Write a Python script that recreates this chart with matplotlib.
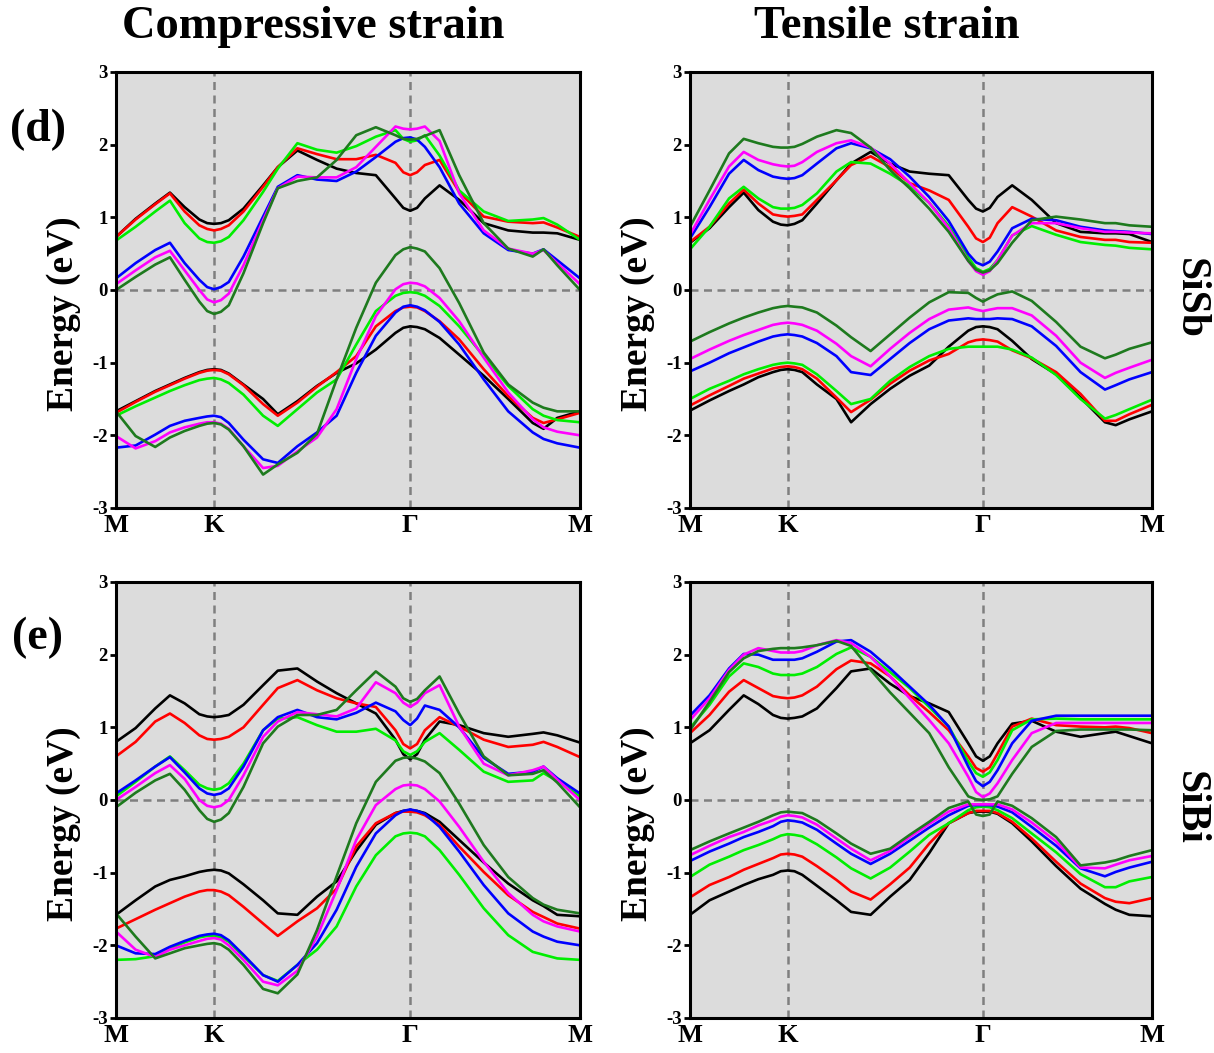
import matplotlib
matplotlib.use("Agg")
import matplotlib.pyplot as plt

plt.rcParams['font.family'] = ['Liberation Serif', 'DejaVu Serif']
plt.rcParams['font.weight'] = 'bold'

# ---------------- k-path (M-K-Gamma-M, units of |MK|) ----------------
K_PATH = [0, 0.2, 0.4, 0.55, 0.7, 0.85, 0.93, 1.0, 1.07, 1.15, 1.3, 1.5, 1.65, 1.85, 2.05, 2.25,
          2.45, 2.65, 2.85, 2.93, 3.0, 3.07, 3.15, 3.3, 3.5, 3.75, 4.0, 4.25, 4.36, 4.5, 4.732]
K_TICK_POS = [0, 1.0, 3.0, 4.732]
K_TICK_LABELS = ['M', 'K', 'Γ', 'M']
Y_TICKS = [-3, -2, -1, 0, 1, 2, 3]

COLUMN_TITLES = ['Compressive strain', 'Tensile strain']
ROW_TAGS = ['(d)', '(e)']
ROW_MATERIALS = ['SiSb', 'SiBi']
Y_LABEL = 'Energy (eV)'

SERIES = ['black', 'red', 'lime', 'blue', 'magenta', 'dgreen']

# ---------------- SiSb, compressive strain ----------------
SISB_C_BLACK_CB = [0.73, 0.98, 1.19, 1.34, 1.14, 0.97, 0.92, 0.91, 0.92, 0.96, 1.12, 1.44, 1.69, 1.92, 1.79, 1.67, 1.61, 1.58, 1.26, 1.13, 1.09, 1.13, 1.26, 1.44, 1.24, 0.92, 0.82, 0.79, 0.79, 0.78, 0.69]
SISB_C_RED_CB = [0.73, 0.97, 1.18, 1.33, 1.08, 0.89, 0.84, 0.82, 0.84, 0.89, 1.08, 1.42, 1.69, 1.95, 1.87, 1.80, 1.80, 1.86, 1.75, 1.62, 1.58, 1.62, 1.72, 1.79, 1.35, 1.01, 0.94, 0.92, 0.93, 0.86, 0.73]
SISB_C_LIME_CB = [0.68, 0.87, 1.08, 1.23, 0.92, 0.71, 0.66, 0.65, 0.67, 0.73, 0.96, 1.35, 1.67, 2.02, 1.93, 1.89, 1.98, 2.11, 2.20, 2.08, 2.04, 2.06, 2.13, 1.85, 1.37, 1.08, 0.95, 0.97, 0.99, 0.90, 0.69]
SISB_C_BLUE_CB = [0.16, 0.37, 0.55, 0.65, 0.37, 0.14, 0.04, 0.01, 0.04, 0.11, 0.46, 1.01, 1.42, 1.58, 1.52, 1.50, 1.63, 1.83, 2.04, 2.09, 2.10, 2.07, 1.97, 1.69, 1.19, 0.78, 0.55, 0.50, 0.56, 0.41, 0.16]
SISB_C_MAGENTA_CB = [0.08, 0.27, 0.45, 0.54, 0.27, 0.00, -0.13, -0.17, -0.14, -0.05, 0.34, 0.96, 1.40, 1.56, 1.55, 1.55, 1.69, 1.97, 2.25, 2.22, 2.21, 2.22, 2.25, 2.05, 1.33, 0.82, 0.57, 0.50, 0.55, 0.37, 0.08]
SISB_C_DGREEN_CB = [0.00, 0.18, 0.35, 0.45, 0.14, -0.16, -0.29, -0.33, -0.30, -0.21, 0.23, 0.92, 1.40, 1.50, 1.55, 1.79, 2.13, 2.24, 2.13, 2.08, 2.07, 2.08, 2.12, 2.20, 1.58, 0.92, 0.57, 0.46, 0.56, 0.34, 0.00]
SISB_C_BLACK_VB = [-1.67, -1.53, -1.39, -1.30, -1.21, -1.13, -1.10, -1.09, -1.10, -1.15, -1.30, -1.50, -1.71, -1.53, -1.32, -1.14, -1.01, -0.82, -0.59, -0.52, -0.50, -0.51, -0.54, -0.66, -0.89, -1.18, -1.50, -1.83, -1.91, -1.76, -1.67]
SISB_C_RED_VB = [-1.69, -1.54, -1.40, -1.31, -1.22, -1.14, -1.11, -1.10, -1.11, -1.16, -1.31, -1.57, -1.73, -1.55, -1.33, -1.13, -0.91, -0.50, -0.29, -0.24, -0.23, -0.24, -0.29, -0.43, -0.68, -1.09, -1.46, -1.76, -1.83, -1.78, -1.69]
SISB_C_LIME_VB = [-1.73, -1.60, -1.48, -1.39, -1.31, -1.24, -1.22, -1.21, -1.23, -1.28, -1.44, -1.73, -1.87, -1.64, -1.41, -1.23, -0.75, -0.29, -0.08, -0.04, -0.03, -0.04, -0.08, -0.22, -0.50, -0.91, -1.32, -1.64, -1.73, -1.79, -1.82]
SISB_C_BLUE_VB = [-2.17, -2.14, -1.99, -1.87, -1.80, -1.76, -1.74, -1.73, -1.75, -1.83, -2.06, -2.33, -2.38, -2.15, -1.96, -1.73, -1.14, -0.63, -0.31, -0.23, -0.21, -0.23, -0.28, -0.44, -0.75, -1.23, -1.67, -1.96, -2.05, -2.11, -2.17]
SISB_C_MAGENTA_VB = [-2.01, -2.18, -2.08, -1.96, -1.89, -1.84, -1.82, -1.82, -1.84, -1.91, -2.15, -2.45, -2.42, -2.22, -2.03, -1.64, -0.95, -0.36, 0.01, 0.08, 0.10, 0.09, 0.05, -0.11, -0.43, -0.93, -1.41, -1.78, -1.89, -1.95, -2.00]
SISB_C_DGREEN_VB = [-1.67, -2.01, -2.16, -2.03, -1.94, -1.87, -1.84, -1.83, -1.85, -1.92, -2.15, -2.54, -2.40, -2.24, -1.98, -1.23, -0.52, 0.10, 0.48, 0.56, 0.59, 0.57, 0.53, 0.30, -0.18, -0.86, -1.30, -1.55, -1.62, -1.67, -1.67]

# ---------------- SiSb, tensile strain ----------------
SISB_T_BLACK_CB = [0.65, 0.85, 1.14, 1.34, 1.10, 0.94, 0.90, 0.89, 0.91, 0.96, 1.19, 1.51, 1.74, 1.90, 1.74, 1.63, 1.60, 1.58, 1.24, 1.12, 1.08, 1.13, 1.28, 1.44, 1.24, 0.92, 0.80, 0.78, 0.78, 0.77, 0.66]
SISB_T_RED_CB = [0.66, 0.87, 1.19, 1.38, 1.19, 1.04, 1.02, 1.01, 1.02, 1.04, 1.24, 1.51, 1.72, 1.84, 1.69, 1.47, 1.37, 1.24, 0.87, 0.71, 0.66, 0.72, 0.92, 1.14, 1.01, 0.82, 0.73, 0.69, 0.69, 0.66, 0.65]
SISB_T_LIME_CB = [0.56, 0.87, 1.26, 1.42, 1.26, 1.14, 1.12, 1.12, 1.13, 1.17, 1.33, 1.63, 1.76, 1.74, 1.60, 1.43, 1.20, 0.88, 0.45, 0.30, 0.25, 0.29, 0.41, 0.75, 0.88, 0.76, 0.66, 0.62, 0.61, 0.58, 0.56]
SISB_T_BLUE_CB = [0.71, 1.14, 1.60, 1.79, 1.65, 1.56, 1.54, 1.53, 1.54, 1.58, 1.74, 1.95, 2.02, 1.95, 1.80, 1.56, 1.28, 0.95, 0.50, 0.38, 0.34, 0.39, 0.53, 0.85, 0.98, 0.96, 0.87, 0.82, 0.81, 0.80, 0.77]
SISB_T_MAGENTA_CB = [0.76, 1.24, 1.70, 1.90, 1.79, 1.73, 1.71, 1.70, 1.71, 1.76, 1.90, 2.02, 2.06, 1.96, 1.74, 1.47, 1.20, 0.85, 0.40, 0.26, 0.21, 0.26, 0.41, 0.75, 0.92, 0.92, 0.85, 0.80, 0.80, 0.79, 0.78]
SISB_T_DGREEN_CB = [0.87, 1.37, 1.88, 2.08, 2.02, 1.97, 1.96, 1.96, 1.97, 2.01, 2.11, 2.20, 2.16, 1.96, 1.65, 1.40, 1.12, 0.80, 0.40, 0.28, 0.24, 0.27, 0.37, 0.65, 0.96, 1.01, 0.97, 0.92, 0.92, 0.89, 0.87]
SISB_T_BLACK_VB = [-1.66, -1.52, -1.39, -1.30, -1.20, -1.13, -1.10, -1.09, -1.10, -1.13, -1.30, -1.50, -1.82, -1.57, -1.36, -1.18, -1.04, -0.78, -0.56, -0.51, -0.50, -0.51, -0.54, -0.70, -0.95, -1.16, -1.48, -1.82, -1.86, -1.78, -1.67]
SISB_T_RED_VB = [-1.59, -1.45, -1.32, -1.22, -1.15, -1.08, -1.06, -1.05, -1.06, -1.09, -1.22, -1.48, -1.68, -1.51, -1.29, -1.11, -0.97, -0.88, -0.72, -0.69, -0.68, -0.69, -0.71, -0.83, -0.94, -1.13, -1.43, -1.80, -1.80, -1.71, -1.58]
SISB_T_LIME_VB = [-1.50, -1.36, -1.25, -1.16, -1.09, -1.03, -1.01, -1.00, -1.01, -1.03, -1.16, -1.39, -1.57, -1.50, -1.25, -1.06, -0.91, -0.81, -0.78, -0.78, -0.78, -0.78, -0.78, -0.82, -0.93, -1.17, -1.50, -1.77, -1.72, -1.64, -1.51]
SISB_T_BLUE_VB = [-1.12, -1.00, -0.87, -0.79, -0.71, -0.64, -0.62, -0.61, -0.62, -0.64, -0.73, -0.91, -1.13, -1.17, -0.95, -0.73, -0.54, -0.42, -0.39, -0.40, -0.40, -0.40, -0.39, -0.40, -0.50, -0.77, -1.13, -1.37, -1.31, -1.23, -1.13]
SISB_T_MAGENTA_VB = [-0.95, -0.82, -0.70, -0.62, -0.55, -0.48, -0.46, -0.45, -0.46, -0.48, -0.56, -0.74, -0.91, -1.05, -0.81, -0.59, -0.40, -0.27, -0.24, -0.27, -0.29, -0.27, -0.25, -0.25, -0.35, -0.63, -1.00, -1.21, -1.14, -1.07, -0.96]
SISB_T_DGREEN_VB = [-0.71, -0.58, -0.46, -0.38, -0.31, -0.25, -0.23, -0.22, -0.23, -0.24, -0.31, -0.49, -0.65, -0.84, -0.61, -0.38, -0.17, -0.03, -0.04, -0.11, -0.16, -0.11, -0.06, -0.02, -0.15, -0.44, -0.78, -0.94, -0.89, -0.81, -0.72]

# ---------------- SiBi, compressive strain ----------------
SIBI_C_BLACK_CB = [0.80, 0.99, 1.26, 1.44, 1.33, 1.18, 1.15, 1.14, 1.15, 1.17, 1.31, 1.58, 1.78, 1.81, 1.63, 1.47, 1.33, 1.19, 0.83, 0.63, 0.56, 0.63, 0.83, 1.08, 1.03, 0.92, 0.87, 0.91, 0.93, 0.89, 0.79]
SIBI_C_RED_CB = [0.60, 0.80, 1.08, 1.19, 1.06, 0.89, 0.84, 0.83, 0.84, 0.87, 1.00, 1.31, 1.54, 1.65, 1.51, 1.40, 1.33, 1.28, 0.96, 0.77, 0.71, 0.77, 0.96, 1.14, 1.01, 0.83, 0.73, 0.76, 0.80, 0.73, 0.59]
SIBI_C_LIME_CB = [0.05, 0.25, 0.46, 0.60, 0.41, 0.21, 0.16, 0.14, 0.16, 0.23, 0.50, 0.96, 1.12, 1.14, 1.03, 0.94, 0.94, 0.98, 0.82, 0.67, 0.62, 0.67, 0.80, 0.92, 0.69, 0.39, 0.25, 0.27, 0.37, 0.26, 0.05]
SIBI_C_BLUE_CB = [0.09, 0.27, 0.46, 0.59, 0.38, 0.16, 0.09, 0.07, 0.09, 0.16, 0.46, 0.96, 1.14, 1.24, 1.14, 1.11, 1.20, 1.34, 1.22, 1.10, 1.03, 1.12, 1.30, 1.24, 1.00, 0.58, 0.36, 0.39, 0.46, 0.30, 0.09]
SIBI_C_MAGENTA_CB = [0.00, 0.18, 0.37, 0.48, 0.29, 0.00, -0.08, -0.10, -0.08, 0.00, 0.34, 0.87, 1.08, 1.21, 1.18, 1.15, 1.26, 1.62, 1.47, 1.34, 1.28, 1.34, 1.47, 1.58, 1.01, 0.50, 0.34, 0.41, 0.46, 0.28, 0.00]
SIBI_C_DGREEN_CB = [-0.10, 0.10, 0.27, 0.36, 0.14, -0.14, -0.26, -0.30, -0.27, -0.18, 0.18, 0.78, 1.01, 1.17, 1.17, 1.24, 1.51, 1.77, 1.56, 1.40, 1.35, 1.39, 1.51, 1.70, 1.19, 0.60, 0.34, 0.36, 0.41, 0.24, -0.10]
SIBI_C_BLACK_VB = [-1.58, -1.38, -1.19, -1.10, -1.05, -0.99, -0.97, -0.96, -0.97, -1.01, -1.16, -1.38, -1.56, -1.58, -1.33, -1.12, -0.70, -0.34, -0.18, -0.15, -0.14, -0.15, -0.18, -0.30, -0.55, -0.86, -1.15, -1.38, -1.46, -1.58, -1.60]
SIBI_C_RED_VB = [-1.77, -1.64, -1.51, -1.42, -1.33, -1.26, -1.24, -1.24, -1.26, -1.31, -1.47, -1.70, -1.87, -1.67, -1.49, -1.22, -0.64, -0.32, -0.18, -0.16, -0.16, -0.17, -0.21, -0.34, -0.64, -0.99, -1.31, -1.54, -1.61, -1.70, -1.77]
SIBI_C_LIME_VB = [-2.20, -2.19, -2.15, -2.04, -1.96, -1.89, -1.87, -1.87, -1.89, -1.95, -2.15, -2.41, -2.49, -2.27, -2.06, -1.74, -1.19, -0.76, -0.50, -0.46, -0.45, -0.46, -0.50, -0.69, -1.03, -1.49, -1.86, -2.09, -2.13, -2.18, -2.20]
SIBI_C_BLUE_VB = [-2.00, -2.11, -2.12, -2.02, -1.94, -1.87, -1.85, -1.84, -1.86, -1.93, -2.13, -2.41, -2.50, -2.27, -1.97, -1.51, -0.92, -0.46, -0.21, -0.15, -0.13, -0.15, -0.19, -0.37, -0.71, -1.17, -1.56, -1.81, -1.88, -1.95, -2.00]
SIBI_C_MAGENTA_VB = [-1.81, -2.06, -2.16, -2.06, -2.00, -1.94, -1.91, -1.90, -1.92, -2.00, -2.20, -2.50, -2.55, -2.35, -1.88, -1.24, -0.55, -0.07, 0.15, 0.20, 0.21, 0.20, 0.15, -0.02, -0.37, -0.85, -1.28, -1.58, -1.67, -1.74, -1.81]
SIBI_C_DGREEN_VB = [-1.56, -1.88, -2.18, -2.11, -2.04, -2.00, -1.98, -1.97, -1.99, -2.06, -2.27, -2.60, -2.66, -2.40, -1.79, -1.05, -0.32, 0.25, 0.54, 0.58, 0.59, 0.57, 0.53, 0.37, -0.05, -0.62, -1.06, -1.35, -1.44, -1.51, -1.56]

# ---------------- SiBi, tensile strain ----------------
SIBI_T_BLACK_CB = [0.78, 0.96, 1.24, 1.44, 1.32, 1.17, 1.13, 1.12, 1.13, 1.15, 1.26, 1.54, 1.77, 1.81, 1.60, 1.43, 1.33, 1.21, 0.78, 0.60, 0.54, 0.60, 0.78, 1.05, 1.09, 0.94, 0.87, 0.92, 0.94, 0.88, 0.78]
SIBI_T_RED_CB = [0.92, 1.17, 1.49, 1.65, 1.54, 1.43, 1.41, 1.40, 1.41, 1.44, 1.56, 1.80, 1.92, 1.88, 1.70, 1.44, 1.21, 0.96, 0.60, 0.44, 0.39, 0.45, 0.64, 1.01, 1.12, 1.03, 1.01, 1.00, 1.01, 0.99, 0.92]
SIBI_T_LIME_CB = [0.99, 1.31, 1.70, 1.88, 1.83, 1.74, 1.72, 1.72, 1.72, 1.74, 1.83, 2.01, 2.10, 1.97, 1.76, 1.54, 1.28, 1.01, 0.53, 0.37, 0.32, 0.38, 0.55, 0.96, 1.11, 1.12, 1.11, 1.11, 1.11, 1.11, 1.11]
SIBI_T_BLUE_CB = [1.16, 1.44, 1.81, 2.01, 2.00, 1.93, 1.93, 1.93, 1.93, 1.95, 2.04, 2.18, 2.20, 2.04, 1.81, 1.56, 1.31, 1.01, 0.46, 0.26, 0.19, 0.25, 0.41, 0.78, 1.09, 1.16, 1.16, 1.16, 1.16, 1.16, 1.16]
SIBI_T_MAGENTA_CB = [1.10, 1.40, 1.79, 2.00, 2.09, 2.05, 2.03, 2.03, 2.03, 2.05, 2.13, 2.20, 2.16, 1.97, 1.70, 1.40, 1.10, 0.78, 0.32, 0.11, 0.04, 0.09, 0.23, 0.55, 0.92, 1.06, 1.06, 1.06, 1.06, 1.06, 1.06]
SIBI_T_DGREEN_CB = [0.96, 1.35, 1.76, 1.95, 2.05, 2.08, 2.09, 2.09, 2.09, 2.10, 2.13, 2.19, 2.12, 1.79, 1.48, 1.20, 0.92, 0.45, 0.05, 0.01, 0.00, 0.01, 0.05, 0.36, 0.73, 0.95, 0.97, 0.97, 0.97, 0.97, 0.96]
SIBI_T_BLACK_VB = [-1.58, -1.38, -1.26, -1.17, -1.09, -1.03, -0.98, -0.97, -0.98, -1.03, -1.18, -1.38, -1.54, -1.58, -1.33, -1.10, -0.73, -0.32, -0.18, -0.16, -0.16, -0.16, -0.19, -0.32, -0.57, -0.91, -1.22, -1.43, -1.51, -1.58, -1.60]
SIBI_T_RED_VB = [-1.34, -1.17, -1.06, -0.96, -0.88, -0.80, -0.75, -0.74, -0.75, -0.78, -0.91, -1.10, -1.26, -1.37, -1.16, -0.93, -0.60, -0.32, -0.18, -0.15, -0.15, -0.15, -0.18, -0.30, -0.53, -0.85, -1.15, -1.35, -1.40, -1.42, -1.35]
SIBI_T_LIME_VB = [-1.06, -0.89, -0.78, -0.69, -0.62, -0.54, -0.49, -0.47, -0.48, -0.50, -0.61, -0.79, -0.94, -1.08, -0.93, -0.71, -0.48, -0.32, -0.14, -0.10, -0.09, -0.10, -0.14, -0.25, -0.46, -0.72, -1.02, -1.20, -1.20, -1.12, -1.06]
SIBI_T_BLUE_VB = [-0.84, -0.71, -0.60, -0.51, -0.44, -0.36, -0.30, -0.28, -0.29, -0.31, -0.41, -0.60, -0.74, -0.88, -0.74, -0.56, -0.38, -0.21, -0.08, -0.07, -0.07, -0.07, -0.09, -0.17, -0.37, -0.63, -0.94, -1.05, -0.99, -0.93, -0.85]
SIBI_T_MAGENTA_VB = [-0.76, -0.63, -0.51, -0.44, -0.35, -0.28, -0.23, -0.21, -0.22, -0.24, -0.34, -0.53, -0.67, -0.83, -0.70, -0.51, -0.33, -0.16, -0.06, -0.06, -0.06, -0.06, -0.06, -0.13, -0.31, -0.57, -0.93, -0.94, -0.89, -0.83, -0.77]
SIBI_T_DGREEN_VB = [-0.69, -0.57, -0.46, -0.38, -0.30, -0.21, -0.17, -0.16, -0.17, -0.18, -0.28, -0.46, -0.60, -0.74, -0.67, -0.48, -0.30, -0.11, -0.02, -0.20, -0.22, -0.20, -0.02, -0.08, -0.25, -0.51, -0.90, -0.86, -0.83, -0.77, -0.69]

COLORS = {'black': '#000000', 'red': '#ff0000', 'lime': '#00ee00',
          'blue': '#0000ff', 'magenta': '#ff00ff', 'dgreen': '#1e7a1e'}

PANELS = [
    [  # row 0: SiSb
        {'black': (SISB_C_BLACK_CB, SISB_C_BLACK_VB), 'red': (SISB_C_RED_CB, SISB_C_RED_VB),
         'lime': (SISB_C_LIME_CB, SISB_C_LIME_VB), 'blue': (SISB_C_BLUE_CB, SISB_C_BLUE_VB),
         'magenta': (SISB_C_MAGENTA_CB, SISB_C_MAGENTA_VB), 'dgreen': (SISB_C_DGREEN_CB, SISB_C_DGREEN_VB)},
        {'black': (SISB_T_BLACK_CB, SISB_T_BLACK_VB), 'red': (SISB_T_RED_CB, SISB_T_RED_VB),
         'lime': (SISB_T_LIME_CB, SISB_T_LIME_VB), 'blue': (SISB_T_BLUE_CB, SISB_T_BLUE_VB),
         'magenta': (SISB_T_MAGENTA_CB, SISB_T_MAGENTA_VB), 'dgreen': (SISB_T_DGREEN_CB, SISB_T_DGREEN_VB)},
    ],
    [  # row 1: SiBi
        {'black': (SIBI_C_BLACK_CB, SIBI_C_BLACK_VB), 'red': (SIBI_C_RED_CB, SIBI_C_RED_VB),
         'lime': (SIBI_C_LIME_CB, SIBI_C_LIME_VB), 'blue': (SIBI_C_BLUE_CB, SIBI_C_BLUE_VB),
         'magenta': (SIBI_C_MAGENTA_CB, SIBI_C_MAGENTA_VB), 'dgreen': (SIBI_C_DGREEN_CB, SIBI_C_DGREEN_VB)},
        {'black': (SIBI_T_BLACK_CB, SIBI_T_BLACK_VB), 'red': (SIBI_T_RED_CB, SIBI_T_RED_VB),
         'lime': (SIBI_T_LIME_CB, SIBI_T_LIME_VB), 'blue': (SIBI_T_BLUE_CB, SIBI_T_BLUE_VB),
         'magenta': (SIBI_T_MAGENTA_CB, SIBI_T_MAGENTA_VB), 'dgreen': (SIBI_T_DGREEN_CB, SIBI_T_DGREEN_VB)},
    ],
]

W, H = 1214, 1053
fig = plt.figure(figsize=(W / 100, H / 100), dpi=100)

# axes boxes in pixels: (left, top, right, bottom)
BOXES = [[(116, 72, 580, 508), (690, 72, 1152, 508)],
         [(116, 582, 580, 1018), (690, 582, 1152, 1018)]]

GRID_COLOR = '#7f7f7f'
DASH = (0, (3.2, 2.2))

for r in range(2):
    for c in range(2):
        l, t, rr, b = BOXES[r][c]
        ax = fig.add_axes([l / W, 1 - b / H, (rr - l) / W, (b - t) / H])
        ax.set_facecolor('#dcdcdc')
        ax.set_xlim(K_PATH[0], K_PATH[-1])
        ax.set_ylim(-3, 3)
        for xv in K_TICK_POS[1:-1]:
            ax.axvline(xv, color=GRID_COLOR, lw=1.8, linestyle=DASH, zorder=1)
        ax.axhline(0, color=GRID_COLOR, lw=1.8, linestyle=DASH, zorder=1)
        data = PANELS[r][c]
        for z, name in enumerate(SERIES):
            cb, vb = data[name]
            ax.plot(K_PATH, cb, color=COLORS[name], lw=1.9, zorder=3 + z,
                    solid_joinstyle='round', solid_capstyle='round')
            ax.plot(K_PATH, vb, color=COLORS[name], lw=1.9, zorder=3 + z,
                    solid_joinstyle='round', solid_capstyle='round')
        ax.set_xticks(K_TICK_POS)
        ax.set_xticklabels(K_TICK_LABELS, fontsize=19, fontweight='bold')
        ax.set_yticks(Y_TICKS)
        ax.set_yticklabels([str(v) for v in Y_TICKS], fontsize=13.5, fontweight='bold')
        ax.tick_params(axis='x', length=0, pad=4)
        ax.tick_params(axis='y', direction='out', length=4, width=2, pad=2)
        for s in ax.spines.values():
            s.set_linewidth(2.2)
            s.set_zorder(20)
        ax.set_ylabel(Y_LABEL, fontsize=27, fontweight='bold')
        ax.yaxis.set_label_coords(-0.075, 0.445)

# column titles
fig.text(313 / W, 1 - 27 / H, COLUMN_TITLES[0], fontsize=33.5, fontweight='bold',
         ha='center', va='center')
fig.text(887 / W, 1 - 27 / H, COLUMN_TITLES[1], fontsize=33.5, fontweight='bold',
         ha='center', va='center')
# row tags
fig.text(38 / W, 1 - 130 / H, ROW_TAGS[0], fontsize=33, fontweight='bold', ha='center', va='center')
fig.text(38 / W, 1 - 638 / H, ROW_TAGS[1], fontsize=33, fontweight='bold', ha='center', va='center')
# materials
fig.text(1190 / W, 1 - 298 / H, ROW_MATERIALS[0], fontsize=30, fontweight='bold',
         ha='center', va='center', rotation=-90)
fig.text(1190 / W, 1 - 808 / H, ROW_MATERIALS[1], fontsize=30, fontweight='bold',
         ha='center', va='center', rotation=-90)

fig.savefig('out.png', dpi=100, facecolor='white')
